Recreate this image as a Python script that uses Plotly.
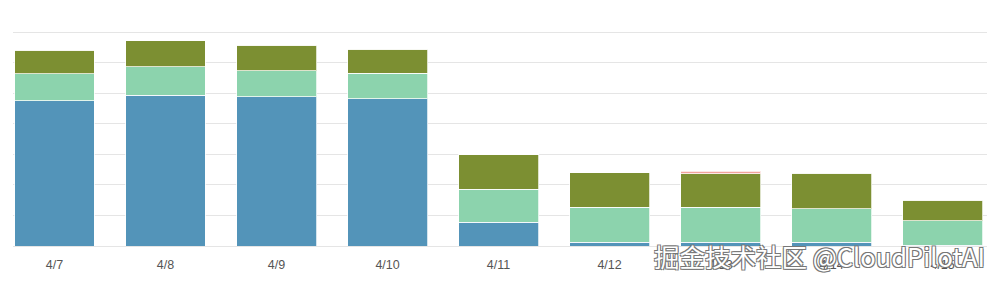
import plotly.graph_objects as go

categories = ["4/7", "4/8", "4/9", "4/10", "4/11", "4/12", "4/13", "4/14", "4/15"]
blue_vals = [4.76, 4.94, 4.89, 4.82, 0.77, 0.12, 0.12, 0.12, 0.02]
green_vals = [0.87, 0.92, 0.84, 0.84, 1.09, 1.14, 1.14, 1.10, 0.80]
olive_vals = [0.78, 0.85, 0.84, 0.78, 1.12, 1.13, 1.10, 1.16, 0.68]
pink_vals = [0, 0, 0, 0, 0, 0, 0.08, 0, 0]

series = [
    ("blue", blue_vals, "#5394B9"),
    ("green", green_vals, "#8CD3AD"),
    ("olive", olive_vals, "#7C8F32"),
    ("pink", pink_vals, "#F2A39C"),
]

fig = go.Figure()
for name, vals, color in series:
    fig.add_trace(go.Bar(
        x=list(range(len(categories))), y=vals, name=name,
        marker=dict(color=color, line=dict(color="rgba(255,255,255,0.75)", width=1)),
        hoverinfo="skip",
    ))

fig.update_layout(
    barmode="stack",
    bargap=0.28,
    width=1000, height=284,
    margin=dict(l=13, r=13, t=29, b=36),
    paper_bgcolor="white", plot_bgcolor="white",
    showlegend=False,
    font=dict(family="Liberation Sans, Arial, sans-serif"),
    xaxis=dict(
        tickmode="array", tickvals=list(range(len(categories))), ticktext=categories,
        range=[-0.374, 8.40], showgrid=False, zeroline=False, showline=False,
        tickfont=dict(size=12.5, color="#555555"), ticks="", ticklen=0,
        ticklabelstandoff=9,
    ),
    yaxis=dict(
        range=[0, 7.1], tickvals=[0, 1, 2, 3, 4, 5, 6, 7], showticklabels=False, showgrid=True,
        gridcolor="#e5e5e5", gridwidth=1, zeroline=True, zerolinecolor="#e5e5e5",
        zerolinewidth=1, showline=False,
    ),
    annotations=[dict(
        text="掘金技术社区 @CloudPilotAI", xref="paper", yref="paper",
        x=1.0, y=-0.046, xanchor="right", yanchor="middle", showarrow=False,
        font=dict(size=25.5, color="white", family="Noto Sans CJK SC, Noto Sans, sans-serif",
                  shadow="1px 1px 0 #777, -1px -1px 0 #777, 1px -1px 0 #777, -1px 1px 0 #777"),
    )],
)

fig.write_html("out.html")
